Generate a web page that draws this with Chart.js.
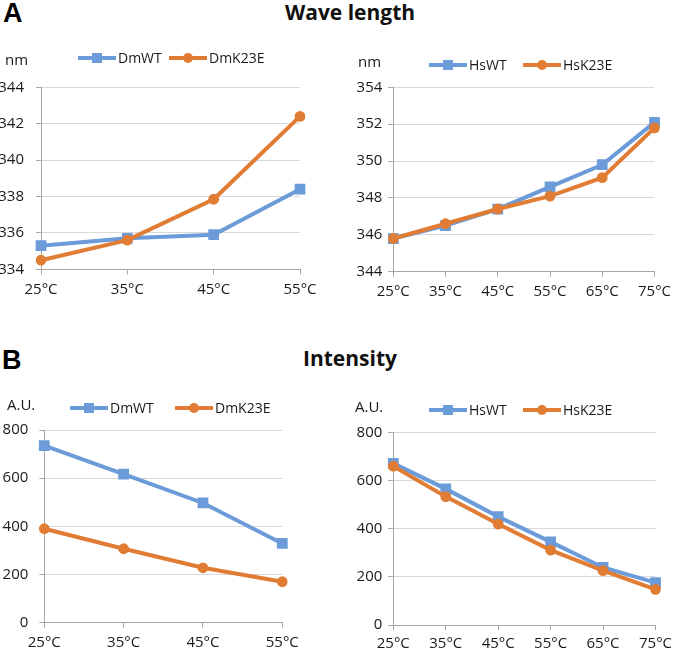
<!DOCTYPE html>
<html><head><meta charset="utf-8">
<script src="https://cdn.jsdelivr.net/npm/chart.js@4"></script>
<style>
html,body{margin:0;padding:0;background:#fff;}
#page{position:relative;width:677px;height:653px;overflow:hidden;background:#fff;}
canvas{position:absolute;}
.letter{position:absolute;font-family:"Liberation Sans",Arial,sans-serif;font-weight:bold;font-size:27px;line-height:1;color:#000;}
.title{position:absolute;font-family:"Open Sans",sans-serif;font-weight:bold;font-size:21px;line-height:1;color:#111;width:200px;text-align:center;}
</style></head>
<body><div id="page">
<div class="letter" style="left:3px;top:0px">A</div>
<div class="title" style="left:250px;top:2px">Wave length</div>
<div class="letter" style="left:2px;top:347px">B</div>
<div class="title" style="left:250px;top:348px">Intensity</div>
<canvas id="c1"></canvas>
<canvas id="c2"></canvas>
<canvas id="c3"></canvas>
<canvas id="c4"></canvas>
</div>
<script>
// ---- data ----
const tempsDm = ['25°C','35°C','45°C','55°C'];
const tempsHs = ['25°C','35°C','45°C','55°C','65°C','75°C'];
const namesDm = ['DmWT','DmK23E'];
const namesHs = ['HsWT','HsK23E'];
const waveDmWT   = [335.3, 335.7, 335.9, 338.4];
const waveDmK23E = [334.5, 335.6, 337.85, 342.4];
const waveHsWT   = [345.8, 346.5, 347.4, 348.6, 349.8, 352.1];
const waveHsK23E = [345.8, 346.6, 347.4, 348.1, 349.1, 351.8];
const intDmWT    = [735, 617, 497, 329];
const intDmK23E  = [390, 307, 228, 170];
const intHsWT    = [671, 565, 450, 345, 239, 176];
const intHsK23E  = [659, 533, 419, 311, 226, 148];
const waveDmAxis = [334, 344, 2];   // min, max, step
const waveHsAxis = [344, 354, 2];
const intAxis    = [0, 800, 200];
const unitWave = 'nm';
const unitInt  = 'A.U.';

// ---- styles ----
const BLUE = '#6B9BD8';
const ORANGE = '#E17C35';
const GRID = '#D9D9D9';
const AXIS = '#A6A6A6';
const TEXT = '#1a1a1a';
const FONT = 'Open Sans';
const TICK_SIZE = 15;

const lineLegend = {
  id: 'lineLegend',
  afterDraw(chart, args, o) {
    const ctx = chart.ctx;
    ctx.save();
    ctx.textBaseline = 'middle';
    ctx.textAlign = 'left';
    ctx.fillStyle = TEXT;
    ctx.font = '15px "' + FONT + '"';
    ctx.fillText(o.unit.text, o.unit.x, o.unit.y);
    ctx.font = o.fontSize + 'px "' + FONT + '"';
    chart.data.datasets.forEach((ds, i) => {
      const x = o.xs[i];
      ctx.strokeStyle = ds.borderColor;
      ctx.lineWidth = 4;
      ctx.lineCap = 'butt';
      ctx.beginPath();
      ctx.moveTo(x, o.y);
      ctx.lineTo(x + o.lineLen, o.y);
      ctx.stroke();
      ctx.fillStyle = ds.backgroundColor;
      Chart.helpers.drawPoint(ctx, {pointStyle: ds.pointStyle, radius: ds.pointStyle === 'rect' ? 7.1 : 5, borderWidth: 0, rotation: 0}, x + o.lineLen / 2, o.y);
      ctx.fillStyle = TEXT;
      ctx.fillText(ds.label, x + o.lineLen + 2, o.y + 1);
    });
    ctx.restore();
  }
};

function makeChart(id, cfg) {
  const c = cfg.canvas, a = cfg.area;
  const el = document.getElementById(id);
  el.style.left = c.x + 'px'; el.style.top = c.y + 'px';
  el.width = c.w; el.height = c.h;
  el.style.width = c.w + 'px'; el.style.height = c.h + 'px';
  const yW = a.l - c.x, xH = c.y + c.h - a.b;
  new Chart(el, {
    type: 'line',
    data: {
      labels: cfg.labels,
      datasets: [
        {label: cfg.names[0], data: cfg.series[0], borderColor: BLUE, backgroundColor: BLUE,
         pointBackgroundColor: BLUE, pointStyle: 'rect', pointRadius: 7.6, pointHoverRadius: 7.6,
         borderWidth: 4, pointBorderWidth: 0, tension: 0, order: 2},
        {label: cfg.names[1], data: cfg.series[1], borderColor: ORANGE, backgroundColor: ORANGE,
         pointBackgroundColor: ORANGE, pointStyle: 'circle', pointRadius: 5.4, pointHoverRadius: 5.4,
         borderWidth: 4, pointBorderWidth: 0, tension: 0, order: 1}
      ]
    },
    options: {
      responsive: false, animation: false, events: [],
      layout: {padding: {left: 0, top: a.t - c.y, right: c.x + c.w - a.r, bottom: 0}},
      plugins: {
        legend: {display: false}, tooltip: {enabled: false}, title: {display: false},
        lineLegend: cfg.legend
      },
      scales: {
        x: {
          offset: false,
          grid: {drawOnChartArea: false, drawTicks: true, tickLength: 5, color: AXIS, lineWidth: 1},
          border: {display: true, color: AXIS, width: 1},
          ticks: {font: {family: FONT, size: TICK_SIZE}, color: TEXT, padding: cfg.xPad, maxRotation: 0, autoSkip: false},
          afterFit: s => { s.height = xH; }
        },
        y: {
          min: cfg.axis[0], max: cfg.axis[1],
          grid: {color: GRID, tickColor: AXIS, tickLength: 5, drawTicks: true, lineWidth: 1},
          border: {display: true, color: AXIS, width: 1},
          ticks: {stepSize: cfg.axis[2], font: {family: FONT, size: TICK_SIZE}, color: TEXT, padding: cfg.yPad},
          afterFit: s => { s.width = yW; }
        }
      }
    },
    plugins: [lineLegend]
  });
}

makeChart('c1', {
  canvas: {x: 0, y: 40, w: 338, h: 272}, area: {l: 41, t: 87.3, r: 300, b: 269.3},
  labels: tempsDm, names: namesDm, series: [waveDmWT, waveDmK23E], axis: waveDmAxis,
  xPad: 6, yPad: 12,
  legend: {xs: [78, 169], y: 18, lineLen: 38, fontSize: 14, unit: {text: unitWave, x: 5, y: 21}}
});
makeChart('c2', {
  canvas: {x: 340, y: 40, w: 337, h: 272}, area: {l: 393.3, t: 87.3, r: 659.3, b: 271.7},
  labels: tempsHs, names: namesHs, series: [waveHsWT, waveHsK23E], axis: waveHsAxis,
  xPad: 6, yPad: 6,
  legend: {xs: [89, 183], y: 25, lineLen: 38, fontSize: 14, unit: {text: unitWave, x: 18, y: 23}}
});
makeChart('c3', {
  canvas: {x: 0, y: 380, w: 338, h: 273}, area: {l: 44.3, t: 430, r: 282.3, b: 622.7},
  labels: tempsDm, names: namesDm, series: [intDmWT, intDmK23E], axis: intAxis,
  xPad: 6, yPad: 11,
  legend: {xs: [70, 175], y: 28, lineLen: 38, fontSize: 14, unit: {text: unitInt, x: 7, y: 26}}
});
makeChart('c4', {
  canvas: {x: 340, y: 380, w: 337, h: 273}, area: {l: 393.3, t: 432.3, r: 659.3, b: 625},
  labels: tempsHs, names: namesHs, series: [intHsWT, intHsK23E], axis: intAxis,
  xPad: 5, yPad: 6,
  legend: {xs: [89, 183], y: 30, lineLen: 38, fontSize: 14, unit: {text: unitInt, x: 15, y: 28}}
});
</script>
</body></html>
